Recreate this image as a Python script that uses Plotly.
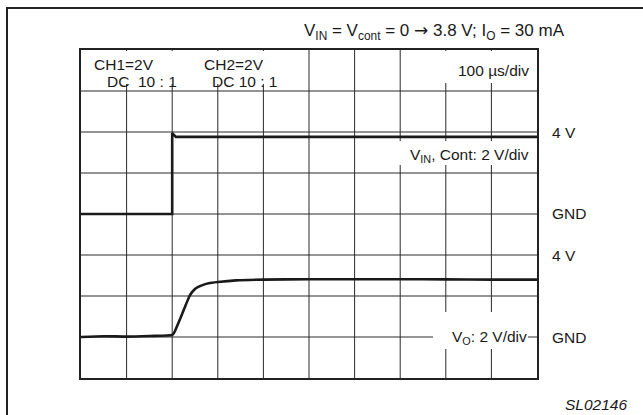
import plotly.graph_objects as go

# ---- data (time in µs, voltage in V) ----
vin_t = [0, 200, 200, 208, 1000]
vin_v = [0.0, 0.0, 3.95, 3.76, 3.76]

vo_t = [0, 50, 100, 150, 200, 204, 212, 225, 238, 244, 252, 265, 280, 300, 340, 400, 500, 600, 700, 800, 900, 1000]
vo_v = [0.0, 0.04, 0.02, 0.05, 0.1, 0.2, 0.6, 1.3, 2.0, 2.2, 2.38, 2.52, 2.62, 2.68, 2.76, 2.8, 2.82, 2.82, 2.82, 2.81, 2.8, 2.8]

title_text = ("V<sub>IN</sub> = V<sub>cont</sub> = 0 "
              "<span style='font-family:DejaVu Sans'>\u2192</span> 3.8 V; I<sub>O</sub> = 30 mA")
right_labels = ["4 V", "GND", "4 V", "GND"]

W, H = 643, 415
L, R, T, B = 81, 106, 50, 37
PW, PH = W - L - R, H - T - B
X_RANGE = [0, 1000]
Y_RANGE = [-8, 8]
X_DIV = 100
Y_DIV = 2


def px(x):
    return (x - L) / PW


def py(y):
    return (H - B - y) / PH


def dx(x):
    return X_RANGE[0] + px(x) * (X_RANGE[1] - X_RANGE[0])


def dy(y):
    return Y_RANGE[0] + py(y) * (Y_RANGE[1] - Y_RANGE[0])


FONT = "Liberation Sans, Arial, sans-serif"
INK = "#1a1a1a"
GRID = "#2a2a2a"

fig = go.Figure()
fig.add_trace(go.Scatter(x=vin_t, y=vin_v, mode="lines", yaxis="y",
                         line=dict(color=INK, width=2.6), hoverinfo="skip"))
fig.add_trace(go.Scatter(x=vo_t, y=vo_v, mode="lines", yaxis="y2",
                         line=dict(color=INK, width=2.6, shape="spline", smoothing=0.6),
                         hoverinfo="skip"))

shapes = []
# graticule (drawn as shapes so label boxes can mask it)
nx = int((X_RANGE[1] - X_RANGE[0]) / X_DIV)
ny = int((Y_RANGE[1] - Y_RANGE[0]) / Y_DIV)
for i in range(1, nx):
    xv = X_RANGE[0] + i * X_DIV
    shapes.append(dict(type="line", xref="x", yref="y", x0=xv, x1=xv, y0=Y_RANGE[0], y1=Y_RANGE[1],
                       line=dict(color=GRID, width=1), layer="below"))
for j in range(1, ny):
    yv = Y_RANGE[0] + j * Y_DIV
    shapes.append(dict(type="line", xref="x", yref="y", x0=X_RANGE[0], x1=X_RANGE[1], y0=yv, y1=yv,
                       line=dict(color=GRID, width=1), layer="below"))
# white boxes behind labels (cut the graticule)
for (x0, x1, y0, y1) in [(82, 300, 51, 84), (405, 536, 51, 83), (398, 536, 141, 165), (433, 528, 312, 349)]:
    shapes.append(dict(type="rect", xref="x", yref="y",
                       x0=dx(x0), x1=dx(x1), y0=dy(y0), y1=dy(y1),
                       line=dict(width=0), fillcolor="white", layer="below"))
# outer frame
shapes.append(dict(type="rect", xref="paper", yref="paper",
                   x0=px(7), x1=px(650), y0=py(8), y1=py(425),
                   line=dict(color="#222", width=2), fillcolor="rgba(0,0,0,0)", layer="above"))

ann = []


def add_text(text, x, y, anchor="left", size=15.5, italic=False):
    ann.append(dict(text=("<i>%s</i>" % text) if italic else text,
                    xref="paper", yref="paper", x=px(x), y=py(y),
                    xanchor=anchor, yanchor="middle", showarrow=False,
                    font=dict(family=FONT, size=size, color=INK)))


add_text(title_text, 434, 31, "center", size=17)
add_text("CH1=2V", 92, 64)
add_text("DC  10 : 1", 105, 81)
add_text("CH2=2V", 202, 64)
add_text("DC 10 : 1", 210, 81)
add_text("100 \u00b5s/div", 531, 71, "right")
add_text("V<sub>IN</sub>, Cont: 2 V/div", 531, 155, "right")
add_text("V<sub>O</sub>: 2 V/div", 529, 337, "right")
for lab, yy in zip(right_labels, [132, 213, 255, 337]):
    add_text(lab, 550, yy)
add_text("SL02146", 563, 404, italic=True)

axis_common = dict(showgrid=False, zeroline=False,
                   showticklabels=False, ticks="", showline=True, linecolor="#222",
                   linewidth=2, mirror=True, fixedrange=True)

fig.update_layout(
    width=W, height=H,
    margin=dict(l=L, r=R, t=T, b=B),
    paper_bgcolor="white", plot_bgcolor="white",
    showlegend=False,
    xaxis=dict(range=X_RANGE, **axis_common),
    yaxis=dict(range=Y_RANGE, **axis_common),
    yaxis2=dict(range=[-2, 14], overlaying="y", showgrid=False, zeroline=False,
                showticklabels=False, ticks="", showline=False, fixedrange=True),
    shapes=shapes,
    annotations=ann,
)

fig.write_html("out.html", config={"displayModeBar": False, "staticPlot": True},
               post_script="document.body.style.margin='0';")
